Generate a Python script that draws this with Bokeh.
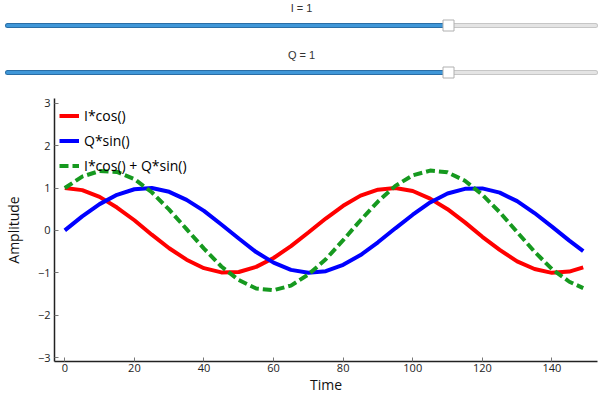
from bokeh.plotting import figure
from bokeh.models import Range1d, FixedTicker, Legend, LegendItem
from bokeh.core.properties import value
from bokeh.embed import file_html
from bokeh.resources import INLINE

# ---- data ----
time = [0, 5, 10, 15, 20, 25, 30, 35, 40, 45, 50, 55, 60, 65, 70, 75, 80, 85,
        90, 95, 100, 105, 110, 115, 120, 125, 130, 135, 140, 145, 149]
i_cos = [1.00, 0.95, 0.79, 0.54, 0.24, -0.10, -0.42, -0.69, -0.89, -0.99, -0.98,
         -0.86, -0.65, -0.37, -0.05, 0.28, 0.58, 0.82, 0.96, 1.00, 0.93, 0.75,
         0.50, 0.19, -0.15, -0.46, -0.73, -0.91, -1.00, -0.97, -0.87]
q_sin = [0.00, 0.33, 0.62, 0.84, 0.97, 1.00, 0.91, 0.72, 0.46, 0.14, -0.19,
         -0.51, -0.76, -0.93, -1.00, -0.96, -0.81, -0.58, -0.28, 0.05, 0.37,
         0.66, 0.87, 0.98, 0.99, 0.89, 0.69, 0.41, 0.09, -0.24, -0.49]
iq_sum = [1.00, 1.27, 1.40, 1.38, 1.21, 0.90, 0.49, 0.03, -0.43, -0.85, -1.17,
          -1.37, -1.41, -1.30, -1.04, -0.68, -0.23, 0.24, 0.68, 1.05, 1.30,
          1.41, 1.37, 1.17, 0.84, 0.43, -0.04, -0.50, -0.91, -1.21, -1.36]

slider_names = ["I", "Q"]
slider_values = [1, 1]
slider_min = -2
slider_max = 2

x_ticks = [0, 20, 40, 60, 80, 100, 120, 140]
y_ticks = [-3, -2, -1, 0, 1, 2, 3]

series_labels = ["I*cos()", "Q*sin()", "I*cos() + Q*sin()"]

FONT = "Open Sans"

# ---- slider strip ----
W = 600
SH = 90
px_per_unit = 147.0
xs0 = slider_min - 7.0 / px_per_unit
sp = figure(width=W, height=SH, output_backend="svg", toolbar_location=None,
            x_axis_type=None, y_axis_type=None,
            x_range=Range1d(xs0, xs0 + W / px_per_unit),
            y_range=Range1d(1 + 18 / 47.0, -25 / 47.0),
            min_border=0, outline_line_color=None)
sp.grid.visible = False
rows = list(range(len(slider_names)))
# gray (remaining) part
sp.segment(x0=slider_values, y0=rows, x1=[slider_max] * len(rows), y1=rows,
           line_width=5, line_color="#c6c6c6", line_cap="round")
sp.segment(x0=slider_values, y0=rows, x1=[slider_max] * len(rows), y1=rows,
           line_width=3, line_color="#e4e4e4", line_cap="round")
# blue (filled) part
sp.segment(x0=[slider_min] * len(rows), y0=rows, x1=slider_values, y1=rows,
           line_width=5, line_color="#2a6ea6", line_cap="round")
sp.segment(x0=[slider_min] * len(rows), y0=rows, x1=slider_values, y1=rows,
           line_width=3, line_color="#3f97d8", line_cap="round")
# knobs
sp.scatter(x=slider_values, y=rows, marker="square", size=11,
           fill_color="#ffffff", line_color="#b0b0b0", line_width=1)
labels = [f"{n} = {v}" for n, v in zip(slider_names, slider_values)]
sp.text(x=[(slider_min + slider_max) / 2] * len(rows), y=rows, text=labels,
        text_align="center", text_baseline="middle", y_offset=-18,
        text_font=value("Liberation Sans"), text_font_size="11px",
        text_color="#333333")

# ---- main plot ----
p = figure(width=W, height=396 - SH, output_backend="svg", toolbar_location=None,
           x_range=Range1d(-2.96, 153.1), y_range=Range1d(-3.09, 3.11),
           min_border_left=53, min_border_right=3, min_border_top=8,
           min_border_bottom=35)
p.outline_line_color = None
p.grid.visible = False
p.background_fill_color = "white"

r1 = p.line(time, i_cos, line_color="#ff0000", line_width=4)
r2 = p.line(time, q_sin, line_color="#0000ff", line_width=4)
r3 = p.line(time, iq_sum, line_color="#16991f", line_width=4,
            line_dash="9 4")

for ax in (p.xaxis[0], p.yaxis[0]):
    ax.axis_line_color = "#222222"
    ax.axis_line_width = 1.5
    ax.major_tick_in = 4
    ax.major_tick_out = 0
    ax.major_tick_line_color = "#777777"
    ax.minor_tick_line_color = None
    ax.major_label_text_font = FONT
    ax.major_label_text_font_size = "11px"
    ax.major_label_text_color = "#222222"
    ax.axis_label_text_font = FONT
    ax.axis_label_text_font_size = "14px"
    ax.axis_label_text_font_style = "normal"
    ax.axis_label_text_color = "#111111"

p.xaxis.ticker = FixedTicker(ticks=x_ticks)
p.yaxis.ticker = FixedTicker(ticks=y_ticks)
p.xaxis.axis_label = "Time"
p.yaxis.axis_label = "Amplitude"
p.xaxis.major_label_standoff = 2
p.xaxis.axis_label_standoff = 0
p.yaxis.major_label_standoff = 4
p.yaxis.axis_label_standoff = 12

legend = Legend(items=[LegendItem(label=series_labels[0], renderers=[r1]),
                       LegendItem(label=series_labels[1], renderers=[r2]),
                       LegendItem(label=series_labels[2], renderers=[r3])],
                location="top_left")
legend.border_line_color = None
legend.background_fill_alpha = 0
legend.margin = 5
legend.padding = 7
legend.spacing = 0
legend.label_height = 25
legend.glyph_height = 25
legend.glyph_width = 20
legend.label_standoff = 5
legend.label_text_font = FONT
legend.label_text_font_size = "14px"
legend.label_text_color = "#000000"
p.add_layout(legend)

# two independent roots, stacked vertically (no frame alignment between them)
open("out.html", "w").write(file_html([sp, p], INLINE))
